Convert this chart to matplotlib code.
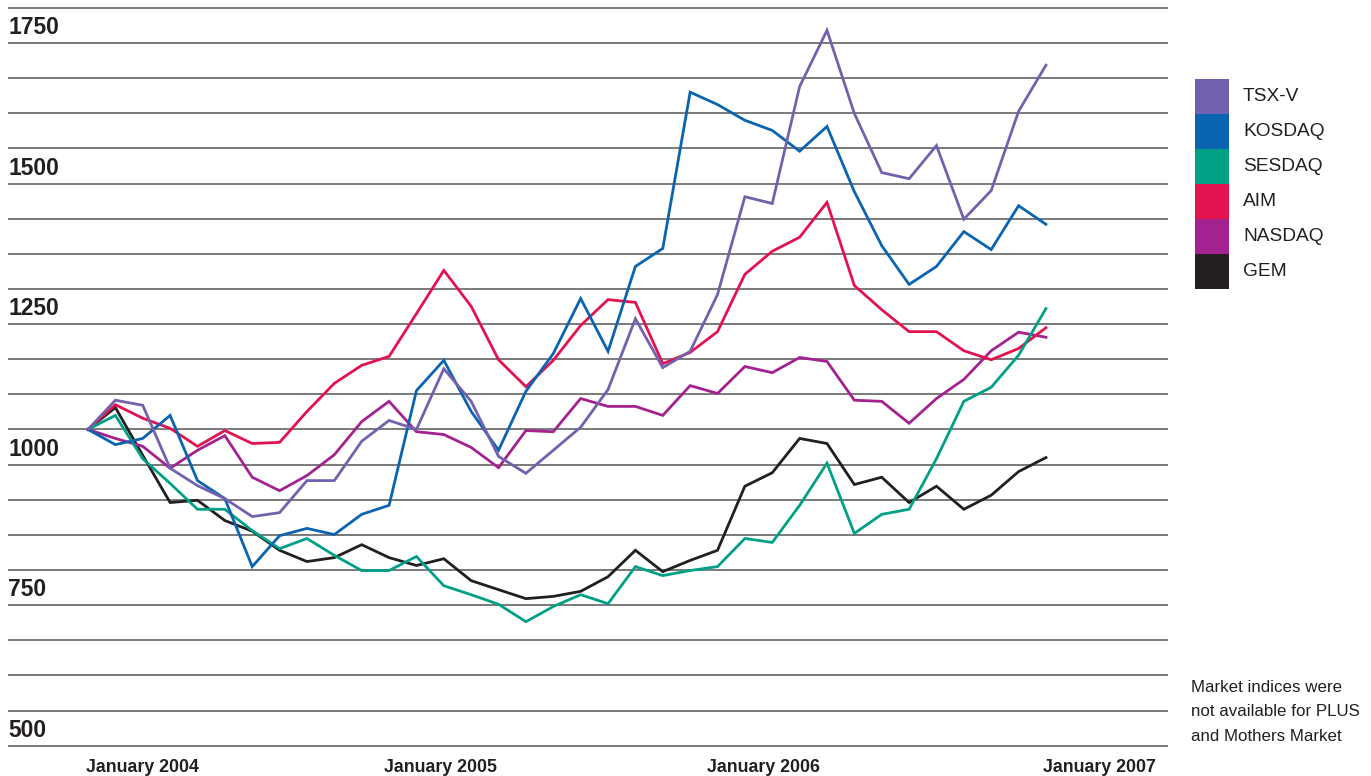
import matplotlib
matplotlib.use("Agg")
import matplotlib.pyplot as plt
from matplotlib.patches import Rectangle
import numpy as np

plt.rcParams['font.family'] = ['Liberation Sans', 'DejaVu Sans']

# ------ Datos: índices de mercado (base 1000), mensuales ------
names = ['TSX-V', 'KOSDAQ', 'SESDAQ', 'AIM', 'NASDAQ', 'GEM']
colores = ['#7461ad', '#0a64b0', '#00a087', '#e2134f', '#a4228f', '#231f20']

tsxv = [1000, 1052, 1043, 931, 900, 877, 845, 852, 909, 909, 979, 1016,
        1000, 1108, 1050, 952, 922, 963, 1004, 1071, 1197, 1110, 1139, 1240,
        1414, 1402, 1610, 1710, 1562, 1457, 1446, 1505, 1374, 1425, 1566, 1648]
kosdaq = [1000, 973, 984, 1025, 909, 877, 756, 811, 824, 813, 849, 865,
          1069, 1123, 1032, 963, 1068, 1135, 1233, 1139, 1290, 1322, 1600, 1578,
          1550, 1532, 1495, 1539, 1423, 1327, 1258, 1290, 1352, 1320, 1398, 1365]
sesdaq = [1000, 1025, 948, 904, 858, 858, 820, 788, 806, 776, 749, 749,
          774, 722, 706, 689, 658, 685, 706, 690, 756, 740, 749, 756,
          806, 799, 865, 940, 815, 849, 858, 948, 1050, 1075, 1132, 1215]
aim = [1000, 1044, 1020, 1002, 970, 998, 975, 977, 1032, 1082, 1114, 1130,
       1206, 1283, 1219, 1124, 1076, 1123, 1185, 1231, 1226, 1117, 1137, 1174,
       1276, 1317, 1342, 1404, 1256, 1213, 1174, 1174, 1140, 1124, 1144, 1181]
nasdaq = [1000, 984, 970, 931, 963, 989, 915, 891, 918, 955, 1014, 1050,
          996, 991, 968, 932, 998, 996, 1055, 1041, 1041, 1025, 1078, 1064,
          1112, 1101, 1128, 1121, 1052, 1050, 1011, 1055, 1089, 1140, 1173, 1164]
gem = [1000, 1039, 954, 870, 874, 838, 819, 785, 765, 772, 795, 772,
       758, 770, 731, 715, 699, 703, 712, 738, 785, 747, 767, 785,
       899, 923, 984, 975, 902, 915, 870, 899, 858, 883, 925, 950]

series = [tsxv, kosdaq, sesdaq, aim, nasdaq, gem]

y_labels = [500, 750, 1000, 1250, 1500, 1750]
x_labels = ['January 2004', 'January 2005', 'January 2006', 'January 2007']
x_label_pos = [2.0, 12.86, 24.66, 36.97]

nota = 'Market indices were\nnot available for PLUS\nand Mothers Market'


def main():
    W, H = 1371, 776
    fig = plt.figure(figsize=(W / 100, H / 100), dpi=100)
    ax = fig.add_axes([8 / W, 1 - 748 / H, 1160 / W, 748 / H])

    meses = np.arange(len(tsxv))
    ax.set_xlim((8 - 88) / 27.37, (1168 - 88) / 27.37)
    ax.set_ylim(433.3, 1764)

    # líneas horizontales cada 62.5
    for v in np.arange(437.5, 1751, 62.5):
        ax.axhline(v, color='#707070', lw=1.3, zorder=1)

    # series (la primera de la leyenda arriba)
    for nombre, datos, c in reversed(list(zip(names, series, colores))):
        ax.plot(meses, datos, color=c, lw=2.0, zorder=3, solid_joinstyle='miter')

    ax.axis('off')

    # etiquetas del eje y, debajo de su línea
    for v in y_labels:
        ax.annotate(str(v), xy=(0, v), xycoords=('axes fraction', 'data'),
                    xytext=(0, -6), textcoords='offset points',
                    ha='left', va='top', fontsize=16.5, fontweight='bold',
                    color='#231f20')

    # etiquetas del eje x
    for pos, lab in zip(x_label_pos, x_labels):
        ax.annotate(lab, xy=(pos, 0), xycoords=('data', 'axes fraction'),
                    xytext=(0, -8), textcoords='offset points',
                    ha='center', va='top', fontsize=12.8, fontweight='bold',
                    color='#231f20', annotation_clip=False)

    # leyenda dibujada a mano
    x0, y0, w, h = 1195, 79, 34, 35
    for i, (nombre, c) in enumerate(zip(names, colores)):
        top = y0 + i * h
        fig.add_artist(Rectangle((x0 / W, 1 - (top + h) / H), w / W, h / H,
                                 transform=fig.transFigure, color=c, lw=0))
        fig.text(1243 / W, 1 - (top + h / 2) / H, nombre, fontsize=13.8,
                 va='center', ha='left', color='#231f20')

    fig.text(1191 / W, 1 - 680 / H, nota, fontsize=12.2, va='top', ha='left',
             color='#231f20', linespacing=1.78)

    fig.savefig('out.png', dpi=100)


if __name__ == "__main__":
    main()
